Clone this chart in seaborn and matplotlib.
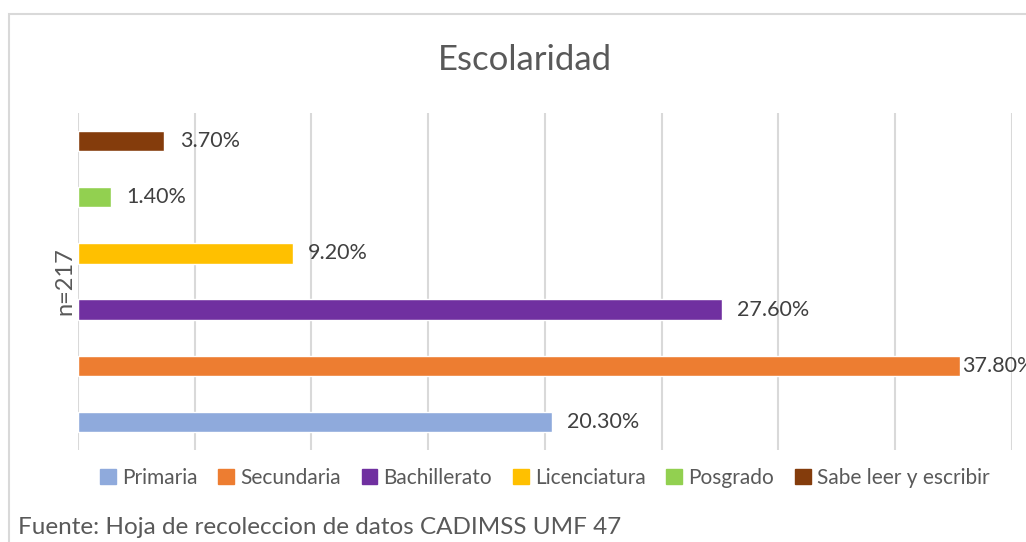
import pandas as pd
import matplotlib.pyplot as plt
import matplotlib.patches as mpatches
import seaborn as sns

# chart data
categories = ["Primaria", "Secundaria", "Bachillerato", "Licenciatura", "Posgrado", "Sabe leer y escribir"]
percentages = [20.30, 37.80, 27.60, 9.20, 1.40, 3.70]
colors = ["#8FAADC", "#ED7D31", "#7030A0", "#FFC000", "#92D050", "#843C0C"]
title = "Escolaridad"
y_label = "n=217"
source_note = "Fuente: Hoja de recoleccion de datos CADIMSS UMF 47"

df = pd.DataFrame({"categoria": categories, "pct": percentages})
palette = dict(zip(categories, colors))

sns.set_style("white")
plt.rcParams["font.family"] = ["Lato", "DejaVu Sans"]
text_color = "#595959"

fig = plt.figure(figsize=(10.26, 5.42), dpi=100)
ax = fig.add_axes([0.076, 0.1697, 0.910, 0.6218])

# Primaria at the bottom, so reverse the order for the y axis
sns.barplot(data=df, x="pct", y="categoria", hue="categoria", order=categories[::-1],
            hue_order=categories, palette=palette, dodge=False, width=0.36,
            saturation=1, legend=False, ax=ax, orient="h")

ax.set_xlim(0, 40)
ax.set_xticks(range(0, 41, 5))
ax.set_xticklabels([])
ax.set_yticks([])
ax.tick_params(length=0)
ax.grid(axis="x", color="#D9D9D9", linewidth=1.5)
ax.set_axisbelow(True)
for s in ax.spines.values():
    s.set_visible(False)
ax.set_xlabel("")
ax.set_ylabel(y_label, fontsize=17, color=text_color, labelpad=2)

# data labels (the biggest one runs past the right edge, as in the original)
for cont in ax.containers:
    for bar in cont:
        w = bar.get_width()
        if w == 0 or pd.isna(w):
            continue
        yc = bar.get_y() + bar.get_height() / 2
        pad = 1 if w > 36 else 11
        ax.annotate(f"{w:.2f}%", xy=(w, yc), xytext=(pad, 0), textcoords="offset points",
                    va="center", ha="left", fontsize=15.5, color="#404040",
                    annotation_clip=False)

fig.text(0.512, 0.89, title, ha="center", va="center", fontsize=25, color=text_color)

handles = [mpatches.Patch(color=palette[c], label=c) for c in categories]
fig.legend(handles=handles, loc="center", bbox_to_anchor=(0.531, 0.118), ncol=6,
           frameon=False, fontsize=15, labelcolor=text_color, handlelength=0.75,
           handleheight=0.75, handletextpad=0.3, columnspacing=1.0)

fig.text(0.018, 0.027, source_note, ha="left", va="center", fontsize=17.5, color=text_color)

# chart border
fig.patches.append(mpatches.Rectangle((0.0088, -0.1), 1.2, 0.1 + 1 - 14 / 542,
                                      transform=fig.transFigure, fill=False,
                                      edgecolor="#D9D9D9", linewidth=1.5))

fig.savefig("out.png", dpi=100)
